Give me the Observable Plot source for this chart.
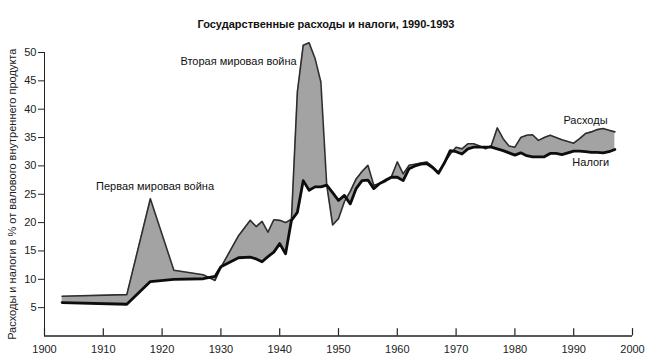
<!DOCTYPE html>
<html>
<head>
<meta charset="utf-8">
<script src="https://cdn.jsdelivr.net/npm/d3@7"></script>
<script src="https://cdn.jsdelivr.net/npm/@observablehq/plot@0.6"></script>
<style>
  body { margin: 0; background: #fff; font-family: "Liberation Sans", Arial, sans-serif; }
  #title { height: 36px; box-sizing: border-box; padding-top: 17px; text-align: center; font-weight: bold; font-size: 11px; line-height: 14px; color: #111; padding-left: 2px; }
  #chart svg { display: block; }
</style>
</head>
<body>
<div id="title">Государственные расходы и налоги, 1990-1993</div>
<div id="chart"></div>
<script>
const years = [1903, 1914, 1918, 1922, 1927, 1929, 1930, 1933, 1935, 1936, 1937, 1938, 1939, 1940, 1941, 1942, 1943, 1944, 1945, 1946, 1947, 1948, 1949, 1950, 1951, 1952, 1953, 1954, 1955, 1956, 1957, 1958, 1959, 1960, 1961, 1962, 1963, 1964, 1965, 1966, 1967, 1968, 1969, 1970, 1971, 1972, 1973, 1974, 1975, 1976, 1977, 1978, 1979, 1980, 1981, 1982, 1983, 1984, 1985, 1986, 1987, 1988, 1989, 1990, 1991, 1992, 1993, 1994, 1995, 1996, 1997];
const expenditures = [7.0, 7.3, 24.2, 11.6, 10.8, 9.8, 12.1, 17.7, 20.4, 19.3, 20.2, 18.3, 20.5, 20.4, 20.0, 20.6, 43.0, 51.3, 51.7, 49.0, 44.8, 26.6, 19.6, 20.7, 23.7, 25.5, 27.7, 29.0, 30.1, 26.6, 26.9, 27.6, 28.1, 30.7, 28.6, 30.1, 30.3, 30.5, 30.7, 29.9, 28.9, 30.5, 32.1, 33.3, 33.0, 33.9, 33.9, 33.5, 33.0, 33.6, 36.7, 34.8, 33.5, 33.3, 35.0, 35.4, 35.5, 34.5, 35.0, 35.4, 35.0, 34.6, 34.3, 34.0, 34.8, 35.7, 36.0, 36.4, 36.6, 36.3, 36.0];
const taxes = [5.9, 5.6, 9.6, 10.0, 10.1, 10.5, 12.2, 13.8, 13.9, 13.6, 13.1, 14.0, 14.8, 16.3, 14.5, 20.4, 21.8, 27.4, 25.7, 26.3, 26.3, 26.6, 25.3, 23.9, 24.8, 23.3, 26.0, 27.4, 27.5, 26.0, 26.9, 27.4, 28.0, 28.0, 27.4, 29.5, 30.0, 30.3, 30.4, 29.7, 28.7, 30.5, 32.7, 32.5, 32.1, 33.0, 33.3, 33.3, 33.3, 33.3, 33.0, 32.7, 32.3, 31.9, 32.3, 31.8, 31.6, 31.6, 31.6, 32.2, 32.2, 32.0, 32.3, 32.6, 32.6, 32.5, 32.4, 32.4, 32.3, 32.5, 32.9];
const xTicks = [1900, 1910, 1920, 1930, 1940, 1950, 1960, 1970, 1980, 1990, 2000];
const yTicks = [5, 10, 15, 20, 25, 30, 35, 40, 45, 50];
const yLabel = "Расходы и налоги в % от валового внутреннего продукта";
const noteTexts = ["Первая мировая война", "Вторая мировая война", "Расходы", "Налоги"];
const noteYears = [1918.8, 1933.0, 1992.0, 1992.9];
const noteValues = [26.4, 48.4, 38.0, 30.6];

const rows = years.map((yr, i) => ({year: yr, exp: expenditures[i], tax: taxes[i]}));
const notes = noteTexts.map((t, i) => ({text: t, year: noteYears[i], value: noteValues[i]}));

const chart = Plot.plot({
  width: 650,
  height: 319,
  marginTop: 16,
  marginBottom: 19.5,
  marginLeft: 44,
  marginRight: 18,
  style: {fontFamily: "'Liberation Sans', Arial, sans-serif", fontSize: "11px", color: "#222", background: "#fff"},
  x: {domain: [1900, 2000], label: null},
  y: {domain: [0, 50]},
  marks: [
    Plot.areaY(rows, {x: "year", y1: "tax", y2: "exp", fill: "#a3a3a3"}),
    Plot.lineY(rows, {x: "year", y: "exp", stroke: "#2e2e2e", strokeWidth: 1.6}),
    Plot.lineY(rows, {x: "year", y: "tax", stroke: "#0d0d0d", strokeWidth: 2.8}),
    Plot.ruleY([0], {x1: 1900, x2: 2000, stroke: "#222", strokeWidth: 1.3}),
    Plot.ruleX([1900], {y1: 0, y2: 50, stroke: "#222", strokeWidth: 1}),
    Plot.ruleX(xTicks, {x: d => d, y1: 0, y2: 1.3, stroke: "#222", strokeWidth: 1.2}),
    Plot.axisX({ticks: xTicks, tickSize: 0, tickPadding: 9, tickFormat: d => String(d), fill: "#222", label: null}),
    Plot.axisY({ticks: yTicks, tickSize: 6, tickPadding: 2, fill: "#222", label: yLabel, labelAnchor: "center", labelOffset: 36, labelArrow: "none"}),
    Plot.text(notes, {x: "year", y: "value", text: "text", fill: "#111", fontSize: 11})
  ]
});
document.getElementById("chart").appendChild(chart);
</script>
</body>
</html>
